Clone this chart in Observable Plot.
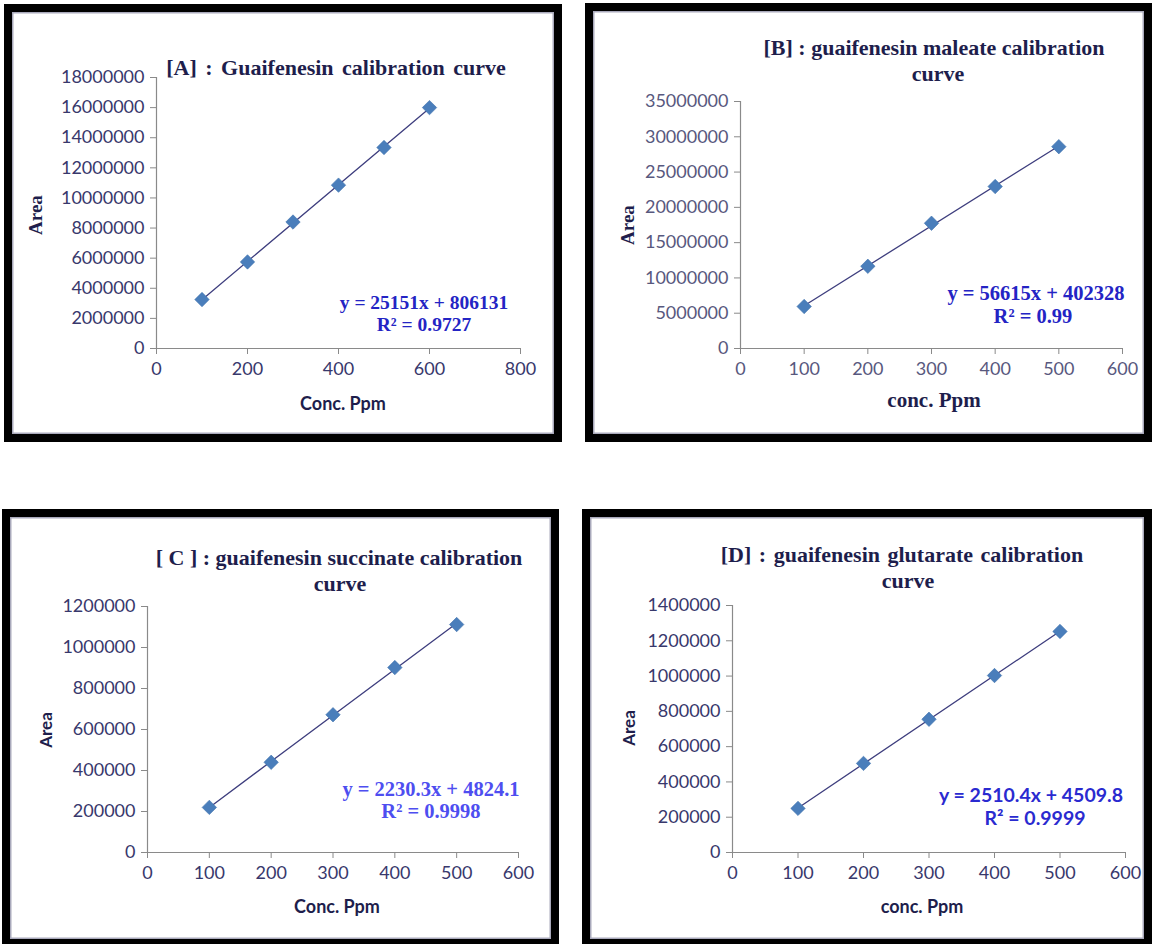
<!DOCTYPE html>
<html>
<head>
<meta charset="utf-8">
<script src="https://cdn.jsdelivr.net/npm/d3@7"></script>
<script src="https://cdn.jsdelivr.net/npm/@observablehq/plot@0.6"></script>
<style>
html, body { margin: 0; padding: 0; background: #fff; }
#page { position: relative; width: 1152px; height: 944px; overflow: hidden; background: #fff; }
.panel { position: absolute; box-sizing: border-box; border: 8px solid #000; background: #fff; box-shadow: inset 0 0 0 1.5px #a9a9bb; }
.panel svg { position: absolute; left: 0; top: 0; overflow: visible; }
.t { position: absolute; white-space: nowrap; transform: translate(-50%, -50%); line-height: 1; }
.title { font-family: "Liberation Serif", serif; font-weight: bold; font-size: 22px; color: #1e1e4c; }
.ylab { font-weight: bold; color: #1e1e4c; transform: translate(-50%, -50%) rotate(-90deg); }
.xlab { font-weight: bold; color: #1e1e4c; }
.serif { font-family: "Liberation Serif", serif; }
.sans { font-family: Lato, sans-serif; }
.eq { font-weight: bold; font-size: 20px; }
</style>
</head>
<body>
<div id="page"></div>
<script>
// ---------- Data ----------
const concA = [100, 200, 300, 400, 500, 600];
const areaA = [3250000, 5750000, 8400000, 10850000, 13350000, 16000000];
const concB = [100, 200, 300, 400, 500];
const areaB = [5950000, 11650000, 17750000, 22950000, 28600000];
const concC = [100, 200, 300, 400, 500];
const areaC = [220000, 440000, 672000, 902000, 1112000];
const concD = [100, 200, 300, 400, 500];
const areaD = [250000, 505000, 755000, 1003000, 1253000];

const xTicksA = [0, 200, 400, 600, 800];
const yTicksA = [0, 2000000, 4000000, 6000000, 8000000, 10000000, 12000000, 14000000, 16000000, 18000000];
const xTicksB = [0, 100, 200, 300, 400, 500, 600];
const yTicksB = [0, 5000000, 10000000, 15000000, 20000000, 25000000, 30000000, 35000000];
const xTicksC = [0, 100, 200, 300, 400, 500, 600];
const yTicksC = [0, 200000, 400000, 600000, 800000, 1000000, 1200000];
const xTicksD = [0, 100, 200, 300, 400, 500, 600];
const yTicksD = [0, 200000, 400000, 600000, 800000, 1000000, 1200000, 1400000];

const titles = [
  ["[A] : Guaifenesin calibration curve"],
  ["[B] : guaifenesin maleate calibration", "curve"],
  ["[ C ] : guaifenesin succinate calibration", "curve"],
  ["[D] : guaifenesin glutarate calibration", "curve"]
];
const xLabels = ["Conc. Ppm", "conc. Ppm", "Conc. Ppm", "conc. Ppm"];
const yLabel = "Area";
const equations = [
  ["y = 25151x + 806131", "R² = 0.9727"],
  ["y = 56615x + 402328", "R² = 0.99"],
  ["y = 2230.3x + 4824.1", "R² = 0.9998"],
  ["y = 2510.4x + 4509.8", "R² = 0.9999"]
];

// ---------- Layout ----------
const page = document.getElementById("page");

const panels = [
  {conc: concA, area: areaA, xTicks: xTicksA, yTicks: yTicksA,
   box: {left: 4, top: 4, w: 558, h: 438}, m: {l: 144, r: 34, t: 65, b: 86}, tick: "#38386c"},
  {conc: concB, area: areaB, xTicks: xTicksB, yTicks: yTicksB,
   box: {left: 585, top: 3, w: 567, h: 439}, m: {l: 147, r: 22, t: 90, b: 86}, tick: "#58587e"},
  {conc: concC, area: areaC, xTicks: xTicksC, yTicks: yTicksC,
   box: {left: 2, top: 509, w: 557, h: 438}, m: {l: 137, r: 33, t: 89, b: 87}, tick: "#38386c"},
  {conc: concD, area: areaD, xTicks: xTicksD, yTicks: yTicksD,
   box: {left: 582, top: 509, w: 570, h: 438}, m: {l: 142, r: 19, t: 88, b: 87}, tick: "#38386c"}
];

panels.forEach(p => {
  const div = document.createElement("div");
  div.className = "panel";
  Object.assign(div.style, {left: p.box.left + "px", top: p.box.top + "px", width: p.box.w + "px", height: p.box.h + "px"});
  const innerW = p.box.w - 16, innerH = p.box.h - 16;
  const data = p.conc.map((c, i) => ({conc: c, area: p.area[i]}));
  const axisColor = "#8a8a8a";
  const chart = Plot.plot({
    width: innerW, height: innerH,
    marginLeft: p.m.l, marginRight: p.m.r, marginTop: p.m.t, marginBottom: p.m.b,
    style: {fontFamily: "Lato, sans-serif", fontSize: "18px", background: "transparent", overflow: "visible"},
    x: {domain: [p.xTicks[0], p.xTicks[p.xTicks.length - 1]], label: null},
    y: {domain: [p.yTicks[0], p.yTicks[p.yTicks.length - 1]], label: null},
    marks: [
      Plot.ruleX([0], {stroke: axisColor, strokeWidth: 1.2}),
      Plot.ruleY([0], {stroke: axisColor, strokeWidth: 1.2}),
      Plot.axisX({ticks: p.xTicks, tickSize: 6, tickPadding: 8, tickFormat: d => String(d), stroke: axisColor, fill: p.tick, label: null}),
      Plot.axisY({ticks: p.yTicks, tickSize: 6, tickPadding: 6, tickFormat: d => String(d), stroke: axisColor, fill: p.tick, label: null}),
      Plot.linearRegressionY(data, {x: "conc", y: "area", ci: 0, stroke: "#3e3e7e", strokeWidth: 1.3}),
      Plot.dot(data, {x: "conc", y: "area", symbol: "diamond2", r: 6.5, fill: "#4a7ebb", stroke: "#4072ad", strokeWidth: 0.6})
    ]
  });
  div.appendChild(chart);
  page.appendChild(div);
});

// ---------- Text overlays ----------
function addText(txt, x, y, cls, extra) {
  const el = document.createElement("div");
  el.className = "t " + cls;
  el.textContent = txt;
  el.style.left = x + "px";
  el.style.top = y + "px";
  if (extra) Object.assign(el.style, extra);
  page.appendChild(el);
}

// titles
addText(titles[0][0], 336, 68, "title", {wordSpacing: "3px"});
addText(titles[1][0], 934, 48, "title");
addText(titles[1][1], 938, 74, "title");
addText(titles[2][0], 339, 558, "title");
addText(titles[2][1], 340, 584, "title");
addText(titles[3][0], 902, 555, "title", {wordSpacing: "2px"});
addText(titles[3][1], 908, 581, "title");

// y labels
addText(yLabel, 35, 215, "ylab serif", {fontSize: "19px"});
addText(yLabel, 627, 225, "ylab serif", {fontSize: "19px"});
addText(yLabel, 45, 730, "ylab sans", {fontSize: "17px"});
addText(yLabel, 628, 728, "ylab sans", {fontSize: "17px"});

// x labels
addText(xLabels[0], 343, 403, "xlab sans", {fontSize: "18px"});
addText(xLabels[1], 934, 400, "xlab serif", {fontSize: "21px"});
addText(xLabels[2], 337, 906, "xlab sans", {fontSize: "18px"});
addText(xLabels[3], 922, 906, "xlab sans", {fontSize: "18px"});

// equations
addText(equations[0][0], 424, 303, "eq serif", {color: "#2424c4", fontSize: "19.5px"});
addText(equations[0][1], 424, 325, "eq serif", {color: "#2424c4", fontSize: "19.5px"});
addText(equations[1][0], 1036, 293, "eq serif", {color: "#2424c4", fontSize: "20.5px"});
addText(equations[1][1], 1033, 316, "eq serif", {color: "#2424c4", fontSize: "20.5px"});
addText(equations[2][0], 431, 789, "eq serif", {color: "#4e4ef0", fontSize: "20.5px"});
addText(equations[2][1], 431, 811, "eq serif", {color: "#4e4ef0", fontSize: "20.5px"});
addText(equations[3][0], 1031, 795, "eq sans", {color: "#2a2ad0", fontSize: "19.5px"});
addText(equations[3][1], 1035, 818, "eq sans", {color: "#2a2ad0", fontSize: "19.5px"});
</script>
</body>
</html>
